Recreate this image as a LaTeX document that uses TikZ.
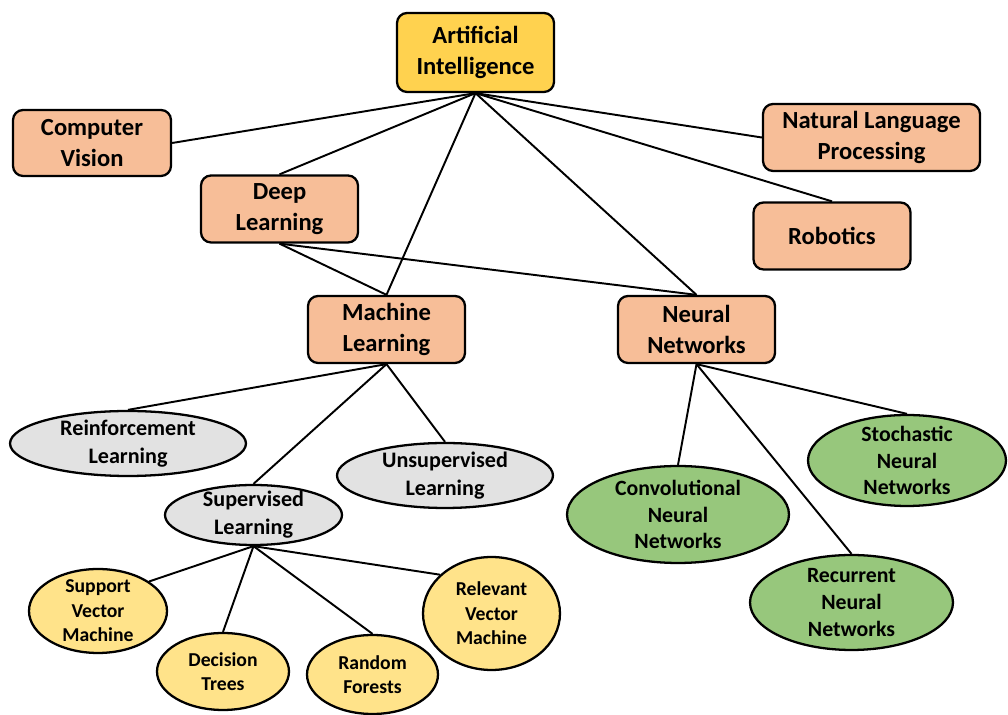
\documentclass[tikz,border=0pt]{standalone}
\usepackage{fontspec}
\setmainfont{Carlito}
\usetikzlibrary{shapes.geometric}

\definecolor{aigold}{HTML}{FFD24F}
\definecolor{salmon}{HTML}{F7BE98}
\definecolor{lgray}{HTML}{E2E2E2}
\definecolor{lyellow}{HTML}{FFE38A}
\definecolor{lgreen}{HTML}{97C77C}

\tikzset{
  box/.style={rectangle, rounded corners=0.2cm, draw=black, line width=1.3pt,
    fill=salmon, inner sep=0pt, minimum width=3.14cm, minimum height=1.34cm,
    align=center, font=\fontsize{14}{17.5}\selectfont\bfseries},
  oval/.style={ellipse, draw=black, line width=1.3pt, inner sep=-6pt, align=center},
  grayoval/.style={oval, fill=lgray, font=\fontsize{12.6}{16}\selectfont\bfseries},
  yeloval/.style={oval, fill=lyellow, font=\fontsize{11.2}{14}\selectfont\bfseries},
  greenoval/.style={oval, fill=lgreen, font=\fontsize{12.4}{15.3}\selectfont\bfseries},
  link/.style={draw=black, line width=1.1pt}
}

\begin{document}
\begin{tikzpicture}[x=0.02cm, y=-0.02cm]
  \useasboundingbox (0,0) rectangle (1008,715);

  % top level and main fields
  \node[box, fill=aigold, minimum height=1.58cm] (ai) at (475.5,52.5) {Artificial\\Intelligence};
  \node[box, minimum width=3.16cm, minimum height=1.32cm] (cv) at (92,143) {Computer\\Vision};
  \node[box, minimum width=4.34cm] (nlp) at (871.5,137.5) {Natural Language\\Processing};
  \node[box] (dl) at (279.5,209) {Deep\\Learning};
  \node[box] (rob) at (832,236) {Robotics};
  \node[box] (ml) at (386.5,329.5) {Machine\\Learning};
  \node[box] (nn) at (696.5,329.5) {Neural\\Networks};

  % learning paradigms
  \node[grayoval, minimum width=4.72cm, minimum height=1.30cm] (rl) at (128,443.5) {Reinforcement\\Learning};
  \node[grayoval, minimum width=4.32cm, minimum height=1.30cm] (ul) at (445,475.5) {Unsupervised\\Learning};
  \node[grayoval, minimum width=3.54cm, minimum height=1.20cm] (sl) at (253.5,515) {Supervised\\Learning};

  % supervised methods
  \node[yeloval, minimum width=2.76cm, minimum height=1.68cm] (svm) at (98,611) {Support\\Vector\\Machine};
  \node[yeloval, minimum width=2.64cm, minimum height=1.54cm] (dt) at (223,671.5) {Decision\\Trees};
  \node[yeloval, minimum width=2.62cm, minimum height=1.58cm] (rf) at (372.5,674.5) {Random\\Forests};
  \node[yeloval, minimum width=2.74cm, minimum height=2.26cm] (rvm) at (491.5,613.5) {Relevant\\Vector\\Machine};

  % network types
  \node[greenoval, minimum width=4.44cm, minimum height=1.94cm] (cnn) at (678,514.5) {Convolutional\\Neural\\Networks};
  \node[greenoval, minimum width=3.96cm, minimum height=1.82cm] (snn) at (907,460.5) {Stochastic\\Neural\\Networks};
  \node[greenoval, minimum width=4.06cm, minimum height=1.90cm] (rnn) at (851.5,602.5) {Recurrent\\Neural\\Networks};

  % connectors
  \draw[link] (ai.south) -- (cv.east);
  \draw[link] (ai.south) -- (dl.north);
  \draw[link] (ai.south) -- (ml.north);
  \draw[link] (ai.south) -- (nn.north);
  \draw[link] (ai.south) -- (rob.north);
  \draw[link] (ai.south) -- (nlp.west);
  \draw[link] (dl.south) -- (ml.north);
  \draw[link] (dl.south) -- (nn.north);
  \draw[link] (ml.south) -- (rl.north);
  \draw[link] (ml.south) -- (sl.north);
  \draw[link] (ml.south) -- (ul.north);
  \draw[link] (sl.south) -- (svm.30);
  \draw[link] (sl.south) -- (dt.north);
  \draw[link] (sl.south) -- (rf.north);
  \draw[link] (sl.south) -- (rvm.143);
  \draw[link] (nn.south) -- (cnn.north);
  \draw[link] (nn.south) -- (rnn.north);
  \draw[link] (nn.south) -- (snn.north);
\end{tikzpicture}
\end{document}
